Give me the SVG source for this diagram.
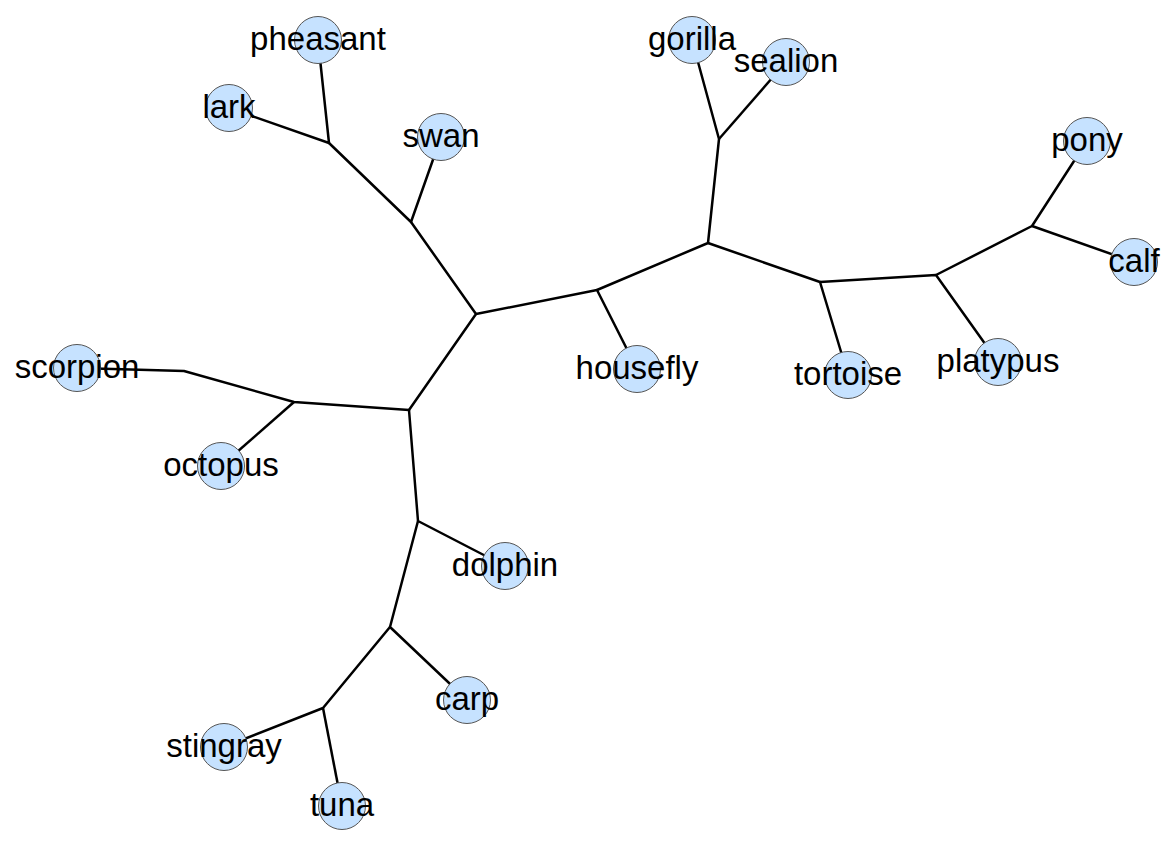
<svg xmlns="http://www.w3.org/2000/svg" width="1176" height="850" viewBox="0 0 1176 850">
<style>
.e{stroke:#000;stroke-width:2.5;fill:none;stroke-linejoin:round}
.n circle{fill:#c6e2ff;stroke:#555;stroke-width:1}
.n text{font-family:"Liberation Sans",Arial,sans-serif;font-size:33px;fill:#000;text-anchor:middle}
</style>
<rect width="1176" height="850" fill="#fff"/>
<g id="connectors" class="e">
<polyline points="318,40 329,143 229,108"/>
<polyline points="329,143 411,222 441,137"/>
<polyline points="411,222 476,314 409,410"/>
<polyline points="476,314 597,290 637,369"/>
<polyline points="597,290 708,243 719,139 692,40"/>
<polyline points="719,139 786,62"/>
<polyline points="708,243 820,282 848,375"/>
<polyline points="820,282 936,275 998,362"/>
<polyline points="936,275 1032,226 1087,141"/>
<polyline points="1032,226 1134,262"/>
<polyline points="409,410 294,402 184,371 77,368"/>
<polyline points="294,402 221,466"/>
<polyline points="409,410 418,521 505,566"/>
<polyline points="418,521 390,627 467,700"/>
<polyline points="390,627 323,708 224,747"/>
<polyline points="323,708 342,806"/>
</g>
<g id="node-pheasant" class="n"><circle cx="318" cy="40" r="23.5"/></g>
<g id="node-lark" class="n"><circle cx="229" cy="108" r="23.5"/></g>
<g id="node-swan" class="n"><circle cx="441" cy="137" r="23.5"/></g>
<g id="node-gorilla" class="n"><circle cx="692" cy="40" r="23.5"/></g>
<g id="node-sealion" class="n"><circle cx="786" cy="62" r="23.5"/></g>
<g id="node-pony" class="n"><circle cx="1087" cy="141" r="23.5"/></g>
<g id="node-calf" class="n"><circle cx="1134" cy="262" r="23.5"/></g>
<g id="node-scorpion" class="n"><circle cx="77" cy="368" r="23.5"/></g>
<g id="node-housefly" class="n"><circle cx="637" cy="369" r="23.5"/></g>
<g id="node-tortoise" class="n"><circle cx="848" cy="375" r="23.5"/></g>
<g id="node-platypus" class="n"><circle cx="998" cy="362" r="23.5"/></g>
<g id="node-octopus" class="n"><circle cx="221" cy="466" r="23.5"/></g>
<g id="node-dolphin" class="n"><circle cx="505" cy="566" r="23.5"/></g>
<g id="node-carp" class="n"><circle cx="467" cy="700" r="23.5"/></g>
<g id="node-stingray" class="n"><circle cx="224" cy="747" r="23.5"/></g>
<g id="node-tuna" class="n"><circle cx="342" cy="806" r="23.5"/></g>
<g id="labels" class="n">
<text x="318" y="50">pheasant</text>
<text x="229" y="118">lark</text>
<text x="441" y="147">swan</text>
<text x="692" y="50">gorilla</text>
<text x="786" y="72">sealion</text>
<text x="1087" y="151">pony</text>
<text x="1134" y="272">calf</text>
<text x="77" y="378">scorpion</text>
<text x="637" y="379">housefly</text>
<text x="848" y="385">tortoise</text>
<text x="998" y="372">platypus</text>
<text x="221" y="476">octopus</text>
<text x="505" y="576">dolphin</text>
<text x="467" y="710">carp</text>
<text x="224" y="757">stingray</text>
<text x="342" y="816">tuna</text>
</g>
</svg>
